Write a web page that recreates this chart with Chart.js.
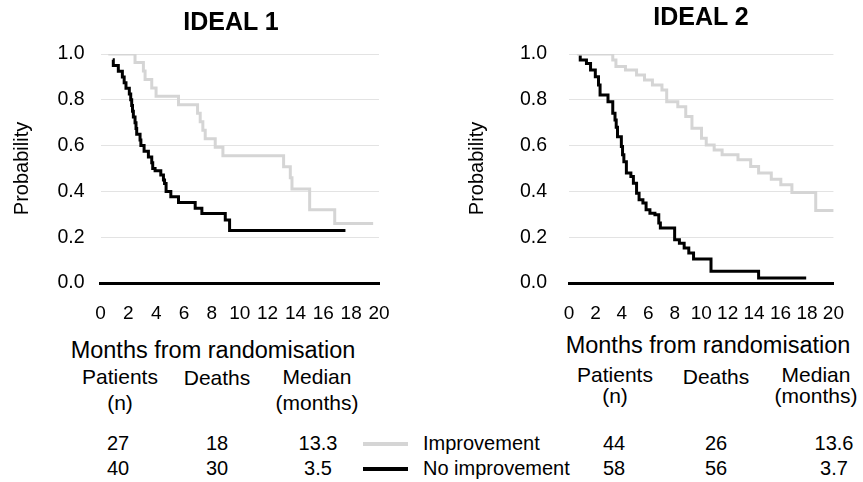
<!DOCTYPE html>
<html>
<head>
<meta charset="utf-8">
<script src="https://cdn.jsdelivr.net/npm/chart.js@4.4.1/dist/chart.umd.min.js"></script>
<style>
  body { margin: 0; background: #fff; font-family: "Liberation Sans", Arial, sans-serif; color: #000; }
  #wrap { position: relative; width: 863px; height: 482px; overflow: hidden; }
  .box { position: absolute; top: 0; height: 330px; }
  .txt { position: absolute; white-space: nowrap; transform: translate(-50%, -50%); }
  .start { transform: translate(0, -50%); }
  .key { position: absolute; height: 4px; }
</style>
</head>
<body>
<div id="wrap">
  <div class="box" style="left:0;width:430px"><canvas id="ideal1"></canvas></div>
  <div class="box" style="left:440px;width:423px"><canvas id="ideal2"></canvas></div>
</div>
<script>
// survival curves: time of each step (months) and probability after it
const ideal1ImpTime = [0.56, 2.48, 3.08, 3.2, 3.68, 3.99, 5.6, 6.97, 7.16, 7.35, 7.52, 8.24, 8.79, 13.15, 13.63, 13.75, 15.02, 16.82, 19.58];
const ideal1ImpProb = [1.0, 0.963, 0.926, 0.889, 0.852, 0.815, 0.778, 0.741, 0.704, 0.667, 0.63, 0.593, 0.556, 0.508, 0.46, 0.41, 0.32, 0.26, 0.26];
const ideal1NoTime = [0.88, 0.92, 1.28, 1.57, 1.7, 1.83, 2.07, 2.17, 2.24, 2.3, 2.36, 2.48, 2.55, 2.6, 2.84, 2.9, 3.13, 3.44, 3.68, 3.75, 3.92, 4.33, 4.52, 4.6, 4.71, 5.05, 5.6, 6.8, 7.28, 8.96, 9.27, 17.59];
const ideal1NoProb = [0.975, 0.95, 0.925, 0.9, 0.875, 0.85, 0.825, 0.8, 0.775, 0.75, 0.725, 0.7, 0.675, 0.65, 0.625, 0.6, 0.575, 0.55, 0.525, 0.5, 0.49, 0.472, 0.45, 0.435, 0.4, 0.377, 0.351, 0.326, 0.304, 0.275, 0.229, 0.229];

const ideal2ImpTime = [0.6, 3.31, 3.55, 4.27, 5.11, 5.71, 6.31, 7.03, 7.39, 8.23, 8.83, 9.3, 10.02, 10.38, 10.98, 11.58, 12.78, 13.74, 14.34, 15.3, 16.02, 16.86, 18.66, 20.2];
const ideal2ImpProb = [1.0, 0.974, 0.945, 0.93, 0.908, 0.887, 0.865, 0.843, 0.792, 0.77, 0.727, 0.676, 0.632, 0.603, 0.581, 0.56, 0.538, 0.509, 0.48, 0.453, 0.429, 0.395, 0.317, 0.317];
const ideal2NoTime = [0.74, 0.85, 1.32, 1.63, 1.99, 2.23, 2.35, 2.95, 3.31, 3.48, 3.57, 3.67, 3.96, 4.05, 4.15, 4.34, 4.68, 4.87, 5.11, 5.3, 5.59, 5.83, 6.12, 6.5, 6.79, 6.91, 7.99, 8.35, 8.71, 9.06, 9.42, 10.74, 14.34, 17.94];
const ideal2NoProb = [0.988, 0.974, 0.959, 0.93, 0.901, 0.865, 0.821, 0.792, 0.741, 0.712, 0.68, 0.639, 0.596, 0.56, 0.53, 0.48, 0.465, 0.436, 0.392, 0.363, 0.349, 0.32, 0.305, 0.298, 0.262, 0.24, 0.189, 0.174, 0.153, 0.131, 0.105, 0.051, 0.022, 0.022];

const groups = ['Improvement', 'No improvement'];
const ideal1Patients = ['27', '40'];
const ideal1Deaths = ['18', '30'];
const ideal1Median = ['13.3', '3.5'];
const ideal2Patients = ['44', '58'];
const ideal2Deaths = ['26', '56'];
const ideal2Median = ['13.6', '3.7'];

const GREY = '#d5d5d5';
Chart.defaults.font.family = '"Liberation Sans", Arial, sans-serif';
Chart.defaults.color = '#000';

function points(times, probs) {
  return times.map((t, i) => ({x: t, y: probs[i]}));
}

function kmChart(canvasId, impT, impP, noT, noP, yWidth, titlePad, tickPad, padRight) {
  const ctx = document.getElementById(canvasId).getContext('2d');

  new Chart(ctx, {
    type: 'line',
    data: {
      datasets: [
        {
          label: groups[0],
          data: points(impT, impP),
          borderColor: GREY,
          borderWidth: 3,
          stepped: true,
          pointRadius: 0,
          fill: false
        },
        {
          label: groups[1],
          data: points(noT, noP),
          borderColor: '#000',
          borderWidth: 3,
          stepped: true,
          pointRadius: 0,
          fill: false
        }
      ]
    },
    options: {
      responsive: true,
      maintainAspectRatio: false,
      animation: false,
      events: [],
      layout: {
        padding: {top: 54, right: padRight, bottom: 0, left: 0}
      },
      scales: {
        x: {
          type: 'linear',
          min: 0,
          max: 20,
          grid: {display: false, drawTicks: false},
          border: {display: true, color: '#000', width: 3},
          ticks: {stepSize: 2, autoSkip: false, maxRotation: 0, padding: 19, font: {size: 19}},
          afterFit: (scale) => { scale.height = 47; }
        },
        y: {
          min: 0,
          max: 1,
          grid: {color: '#e3e3e3', lineWidth: 1, drawTicks: false},
          border: {display: false},
          ticks: {
            stepSize: 0.2,
            padding: tickPad,
            font: {size: 19.5},
            callback: (v) => v.toFixed(1)
          },
          title: {
            display: true,
            text: 'Probability',
            font: {size: 20},
            padding: {top: titlePad, bottom: 0}
          },
          afterFit: (scale) => { scale.width = yWidth; }
        }
      },
      plugins: {
        legend: {display: false},
        tooltip: {enabled: false}
      }
    }
  });
}

kmChart('ideal1', ideal1ImpTime, ideal1ImpProb, ideal1NoTime, ideal1NoProb, 100.5, 10, 16, 51);
kmChart('ideal2', ideal2ImpTime, ideal2ImpProb, ideal2NoTime, ideal2NoProb, 129, 25, 22, 15);

// titles and the table underneath
const wrap = document.getElementById('wrap');
function text(str, x, y, size, opts) {
  const d = document.createElement('div');
  d.className = 'txt' + (opts && opts.start ? ' start' : '');
  d.textContent = str;
  d.style.left = x + 'px';
  d.style.top = y + 'px';
  d.style.fontSize = size + 'px';
  if (opts && opts.bold) d.style.fontWeight = 'bold';
  wrap.appendChild(d);
}

text('IDEAL 1', 231, 21, 25, {bold: true});
text('IDEAL 2', 701, 16, 25, {bold: true});

text('Months from randomisation', 213, 350, 23.5);
text('Months from randomisation', 708, 345, 23.5);

text('Patients', 120, 377, 21);
text('(n)', 120, 403, 21);
text('Deaths', 217, 378, 21);
text('Median', 317, 377, 21);
text('(months)', 317, 403, 21);

text('Patients', 615, 375, 21);
text('(n)', 615, 396, 21);
text('Deaths', 716, 377, 21);
text('Median', 816, 375, 21);
text('(months)', 816, 396, 21);

const rowY = [443, 468];
const keyColor = [GREY, '#000'];
rowY.forEach((y, i) => {
  text(ideal1Patients[i], 118, y, 20);
  text(ideal1Deaths[i], 217, y, 20);
  text(ideal1Median[i], 318, y, 20);
  const k = document.createElement('div');
  k.className = 'key';
  k.style.left = '363px';
  k.style.width = '45px';
  k.style.top = (y - 1) + 'px';
  k.style.background = keyColor[i];
  wrap.appendChild(k);
  text(groups[i], 423, y, 20, {start: true});
  text(ideal2Patients[i], 614, y, 20);
  text(ideal2Deaths[i], 716, y, 20);
  text(ideal2Median[i], 834, y, 20);
});
</script>
</body>
</html>
